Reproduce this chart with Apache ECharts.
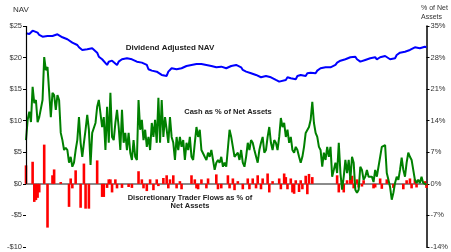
<!DOCTYPE html>
<html>
<head>
<meta charset="utf-8">
<script src="https://cdn.jsdelivr.net/npm/echarts@6/dist/echarts.min.js"></script>
<style>
  html, body { margin: 0; padding: 0; background: #fff; }
  #chart { width: 451px; height: 252px; }
</style>
</head>
<body>
<div id="chart"></div>
<script>
// left axis (NAV, $) and right axis (% of net assets)
const navTicks = [-10, 25, 5]
const pctTicks = [-14, 35, 7]

// dividend adjusted NAV, [period index, $]
const navPoints = [
  [0, 23.85], [2, 23.73], [4, 24.26], [7, 23.94], [8, 23.58], [10, 23.31], [13, 23.42], [14, 23.21],
  [16, 23.42], [19, 23.69], [20, 23.42], [22, 23.21], [25, 22.9], [26, 22.67], [28, 22.36], [31, 21.99],
  [32, 21.63], [34, 21.2], [37, 21.31], [38, 21.2], [40, 21.47], [43, 20.78], [44, 20.14], [46, 19.73],
  [49, 18.83], [50, 19.35], [52, 19.51], [55, 18.83], [56, 19.35], [58, 19.73], [61, 19.89], [62, 20.05],
  [64, 19.73], [67, 19.35], [68, 19.1], [70, 19.2], [73, 18.83], [74, 18.15], [76, 17.93], [79, 17.77],
  [80, 17.61], [82, 17.25], [85, 17.09], [86, 17.77], [88, 18.31], [91, 18.15], [92, 18.2], [94, 18.31],
  [97, 18.67], [98, 18.56], [100, 18.83], [103, 18.99], [104, 19.1], [106, 18.99], [107, 19.19], [109, 18.83],
  [112, 18.67], [113, 18.56], [115, 18.46], [118, 18.56], [119, 18.31], [121, 18.31], [124, 18.67], [125, 18.56],
  [127, 18.83], [130, 18.46], [131, 18.04], [133, 17.77], [136, 17.52], [137, 17.41], [139, 17.25], [142, 16.88],
  [143, 16.98], [145, 17.09], [148, 16.88], [149, 16.72], [151, 16.46], [153, 16.19], [154, 15.9], [157, 16.46],
  [158, 16.88], [160, 16.72], [163, 16.56], [164, 17.09], [166, 17.25], [169, 17.09], [170, 17.52], [172, 17.61],
  [175, 17.52], [176, 17.93], [178, 18.31], [181, 18.46], [182, 18.56], [184, 18.46], [187, 18.83], [188, 19.19],
  [190, 19.51], [193, 19.73], [194, 19.73], [196, 20.05], [199, 20.14], [200, 19.73], [202, 19.35], [205, 19.62],
  [206, 19.89], [208, 19.89], [211, 20.05], [212, 19.73], [214, 20.05], [217, 20.25], [218, 20.05], [220, 19.73],
  [223, 19.89], [224, 20.41], [226, 20.78], [229, 20.93], [230, 20.78], [232, 21.2], [235, 21.63], [236, 21.84],
  [238, 21.47], [241, 21.72], [242, 21.63]
]

// cash as % of net assets, one value per period
const cashPct = [
  9.7, 14.2, 16.0, 13.7, 21.5, 17.9, 18.6, 13.7, 14.8, 14.8, 18.6, 28.1, 25.2, 25.9, 20.4, 14.8,
  20.2, 19.7, 16.4, 19.7, 18.6, 11.3, 9.7, 7.5, 8.0, 7.5, 4.7, 6.0, 3.8, 4.7, 7.5, 9.7,
  14.8, 9.1, 6.0, 9.1, 12.0, 15.3, 12.0, 4.2, 11.3,
  10.9, 13.5, 17.1, 18.6, 18.6, 12.6, 14.8, 7.5, 17.1, 9.1, 20.2, 10.4, 9.7, 13.5, 16.4, 12.6,
  7.5, 16.4, 9.1, 11.3, 7.5, 11.3, 6.9, 5.3, 9.7, 6.0, 5.3, 18.6, 12.0, 14.2, 9.7, 12.0,
  8.2, 10.4, 7.5, 13.5, 10.4, 14.2, 9.1, 19.1, 9.1, 18.6,
  10.4, 14.8, 12.0, 9.1, 14.8, 10.4, 9.1, 5.3, 10.4, 7.5, 10.4, 8.2, 9.7, 5.3, 9.1, 7.5,
  10.4, 6.0, 5.3, 9.1, 12.6, 10.4, 12.0, 7.5, 7.5, 6.0, 5.3, 6.9, 6.0, 7.5, 5.3, 3.1,
  4.7, 5.3, 4.7, 6.0, 3.8, 4.7, 3.8, 3.5, 12.0, 10.4,
  10.4, 6.0, 6.0, 6.9, 5.3, 7.5, 4.7, 3.8, 6.0, 9.1, 7.5, 9.7, 9.1, 7.5, 7.5, 4.7,
  7.5, 9.1, 10.4, 6.9, 7.5, 10.4, 12.6, 9.1, 7.5, 9.7, 9.1, 7.5, 10.4, 14.6, 12.6, 13.5,
  10.4, 12.0, 9.1, 10.4, 7.5, 6.9, 8.2, 7.5, 6.0, 4.7,
  6.0, 8.2, 11.3, 11.3, 12.6, 14.2, 18.2, 13.5, 11.3, 10.4, 8.2, 7.5, 3.8, 6.9, 5.3, 8.2,
  6.0, 8.2, 1.6, 3.1, 4.7, 2.4, 9.1, 2.4, -1.3, 1.6, 5.3, 2.4, 5.3, 0.9, 6.0, 4.7,
  -1.3, -2.0, -1.3, 3.8, 3.1, 0.9, 1.6, 3.1, 1.6, 1.6,
  1.6, 0.4, 3.1, 1.6, 3.8, 6.0, 8.2, 8.2, 8.6, 2.4, 0.9, -0.7, -3.5, -2.0, 0.2, 1.6,
  0.9, 3.1, 5.8, 3.1, 1.6, 4.7, 6.9, 6.0, 5.3, 3.1, 0.9, 0.2, 0.9, 0.2, 1.6, 0.2,
  0.2, -0.2
]

// discretionary trader flows as % of net assets, [period index, %]
const flowPoints = [
  [0, 4.1], [4, 4.9], [5, -4.0], [6, -3.6], [7, -3.1], [8, -1.9], [11, 8.7], [13, -9.7],
  [16, 1.9], [17, 3.2], [21, 0.4], [26, -5.1], [27, 1.2], [28, -1.0], [30, 3.0], [33, -5.3],
  [35, 4.5], [36, -5.5], [38, -5.5], [43, 5.2], [46, -2.9], [47, -2.9], [49, -0.9], [50, 1.0],
  [51, 1.0], [52, -1.9], [54, 1.0], [55, -1.0], [58, -0.9], [62, -0.7], [64, -0.9], [68, 2.8],
  [70, 1.0], [71, -1.0], [73, -1.6], [75, 1.0], [77, -1.4], [79, 1.0], [80, -0.5], [83, 1.3],
  [85, 1.9], [86, -1.0], [87, 1.0], [89, 1.9], [91, -1.0], [93, 0.6], [94, -1.2], [100, 1.9],
  [102, 1.0], [103, -1.0], [104, -1.2], [106, 1.0], [109, -1.0], [110, 1.2], [115, 2.1], [116, -1.2],
  [118, -1.0], [122, 1.9], [123, -1.0], [125, 1.2], [126, -1.4], [128, 0.6], [131, -1.2], [134, 1.2],
  [135, -1.2], [137, 1.2], [139, -1.0], [140, 1.9], [142, -1.2], [143, 1.2], [146, 2.3], [147, -1.9],
  [149, 0.6], [153, 1.2], [154, -1.2], [156, 2.3], [157, 1.5], [158, -1.2], [160, 1.2], [161, -1.9],
  [162, -2.2], [163, 0.8], [165, -1.8], [166, 0.8], [167, -1.2], [169, 1.8], [170, -2.3], [171, 2.2],
  [173, 1.5], [188, 1.9], [189, -1.9], [191, 0.8], [192, -1.9], [194, 0.8], [196, 1.5], [197, 1.8],
  [198, -1.0], [200, 1.0], [201, -0.8], [203, -0.6], [204, 0.8], [210, -1.0], [211, -0.8], [214, 1.2],
  [215, -1.1], [218, 1.0], [222, -0.9], [228, -1.2], [230, 0.8], [232, 1.2], [233, -1.0], [235, 1.0],
  [236, -0.8], [241, 0.6], [242, -0.9]
]

const chart = echarts.init(document.getElementById('chart'), null, { renderer: 'canvas' })
const font = "'Liberation Sans', Arial, sans-serif"

chart.setOption({
  backgroundColor: '#fff',
  animation: false,
  textStyle: { fontFamily: font },
  grid: { left: 26, right: 21, top: 26, bottom: 5 },
  xAxis: {
    type: 'value',
    min: 0,
    max: cashPct.length - 1,
    axisLine: { onZero: true, onZeroAxisIndex: 1, lineStyle: { color: '#666', width: 1.5 } },
    axisTick: { show: false },
    axisLabel: { show: false },
    splitLine: { show: false }
  },
  yAxis: [
    {
      type: 'value',
      min: navTicks[0],
      max: navTicks[1],
      interval: navTicks[2],
      axisLine: { show: false },
      axisTick: { show: true, length: 3, lineStyle: { color: '#000' } },
      axisLabel: {
        margin: 4,
        color: '#333',
        fontSize: 7.5,
        fontFamily: font,
        formatter: v => (v < 0 ? '-$' + Math.abs(v) : '$' + v)
      },
      splitLine: { show: false }
    },
    {
      type: 'value',
      position: 'right',
      min: pctTicks[0],
      max: pctTicks[1],
      interval: pctTicks[2],
      axisLine: { show: true, lineStyle: { color: '#000', width: 1.5 } },
      axisTick: { show: true, length: 3, lineStyle: { color: '#000' } },
      axisLabel: {
        margin: 4,
        color: '#333',
        fontSize: 7.5,
        fontFamily: font,
        formatter: v => v + '%'
      },
      splitLine: { show: false }
    }
  ],
  graphic: [
    { type: 'text', left: 13, top: 6, style: { text: 'NAV', font: '8px ' + font, fill: '#333' } },
    {
      type: 'text', left: 421, top: 4,
      style: { text: '% of Net\nAssets', font: '7px ' + font, fill: '#333', align: 'center', lineHeight: 9, width: 28 }
    },
    { type: 'text', x: 170, y: 48, style: { text: 'Dividend Adjusted NAV', font: 'bold 8px ' + font, fill: '#222', align: 'center', verticalAlign: 'middle' } },
    { type: 'text', x: 228, y: 112, style: { text: 'Cash as % of Net Assets', font: 'bold 7.5px ' + font, fill: '#222', align: 'center', verticalAlign: 'middle' } },
    { type: 'text', x: 190, y: 198, style: { text: 'Discretionary Trader Flows as % of', font: 'bold 7.5px ' + font, fill: '#222', align: 'center', verticalAlign: 'middle' } },
    { type: 'text', x: 190, y: 206, style: { text: 'Net Assets', font: 'bold 7.5px ' + font, fill: '#222', align: 'center', verticalAlign: 'middle' } }
  ],
  series: [
    {
      name: 'Discretionary Trader Flows as % of Net Assets',
      type: 'bar',
      yAxisIndex: 1,
      barWidth: 2.6,
      itemStyle: { color: '#ff0000' },
      data: flowPoints,
      z: 2
    },
    {
      name: 'Cash as % of Net Assets',
      type: 'line',
      yAxisIndex: 1,
      showSymbol: false,
      lineStyle: { color: '#008000', width: 2 },
      data: cashPct.map((v, i) => [i, v]),
      z: 3
    },
    {
      name: 'Dividend Adjusted NAV',
      type: 'line',
      yAxisIndex: 0,
      showSymbol: false,
      lineStyle: { color: '#0000ff', width: 2 },
      data: navPoints,
      z: 4,
      markLine: {
        silent: true,
        symbol: 'none',
        label: { show: false },
        lineStyle: { color: '#000', width: 1.2, type: 'solid' },
        data: [[{ coord: [0, navTicks[1]] }, { coord: [0, 0] }]]
      }
    }
  ]
})
</script>
</body>
</html>
